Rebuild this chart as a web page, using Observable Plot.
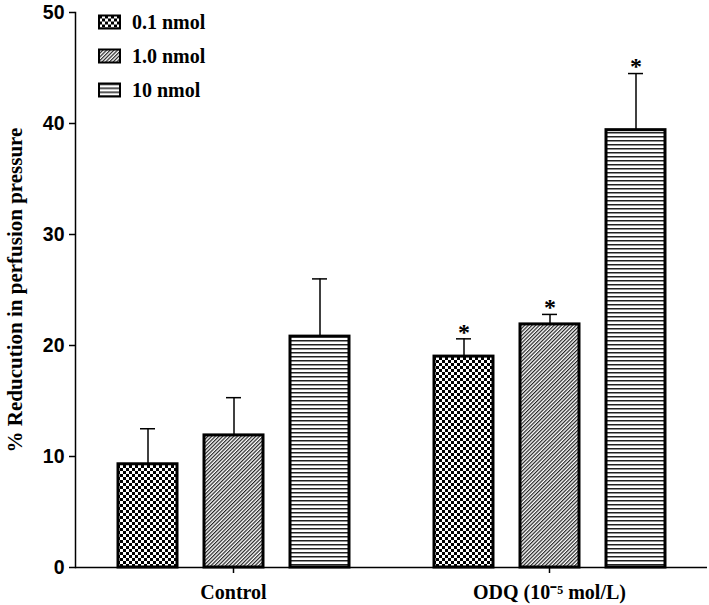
<!DOCTYPE html>
<html><head><meta charset="utf-8">
<script src="https://cdn.jsdelivr.net/npm/d3@7"></script>
<script src="https://cdn.jsdelivr.net/npm/@observablehq/plot@0.6"></script>
<style>body{margin:0;background:#fff} #chart{width:709px;height:605px}</style>
</head><body><div id="chart"></div>
<script>
const groups = ["Control", "ODQ (10⁻⁵ mol/L)"];
const doses = ["0.1 nmol", "1.0 nmol", "10 nmol"];
const controlMeans = [9.3, 11.9, 20.8];
const controlSem = [3.2, 3.4, 5.2];
const controlSignificant = [false, false, false];
const odqMeans = [19.0, 21.9, 39.4];
const odqSem = [1.6, 0.9, 5.1];
const odqSignificant = [true, true, true];
const yTicks = [0, 10, 20, 30, 40, 50];
const yLabel = "% Reducution in perfusion pressure";

const rows = [];
doses.forEach((d, i) => rows.push({group: groups[0], dose: d, mean: controlMeans[i], sem: controlSem[i], sig: controlSignificant[i]}));
doses.forEach((d, i) => rows.push({group: groups[1], dose: d, mean: odqMeans[i], sem: odqSem[i], sig: odqSignificant[i]}));

const patternIds = ["pat-checker", "pat-diag", "pat-horiz"];
const SERIF = "'Liberation Serif', 'Times New Roman', serif";
const SANS = "'Liberation Sans', Arial, sans-serif";

const plot = Plot.plot({
  width: 709, height: 605, marginTop: 12, marginBottom: 38, marginLeft: 75, marginRight: 2,
  fx: {domain: groups, padding: 0, label: null},
  x: {domain: doses, paddingInner: 0.314, paddingOuter: 0.494, axis: null},
  y: {domain: [0, 50]},
  color: {type: "ordinal", domain: doses, range: patternIds.map(id => `url(#${id})`)},
  marks: [
    Plot.barY(rows, {fx: "group", x: "dose", y: "mean", fill: "dose", stroke: "black", strokeWidth: 3}),
    Plot.ruleX(rows, {fx: "group", x: "dose", y1: "mean", y2: d => d.mean + d.sem, stroke: "black", strokeWidth: 1.5}),
    Plot.tickY(rows, {fx: "group", x: "dose", y: d => d.mean + d.sem, stroke: "black", strokeWidth: 1.5, insetLeft: 22, insetRight: 22}),
    Plot.text(rows.filter(d => d.sig), {fx: "group", x: "dose", y: d => d.mean + d.sem, text: () => "*", dy: -7, fontSize: 24, fontWeight: "bold", fontFamily: SERIF}),
    Plot.ruleY([0], {stroke: "black", strokeWidth: 1.5}),
    Plot.frame({anchor: "left", facet: "super", strokeWidth: 1.5}),
    Plot.axisY({ticks: yTicks, tickSize: 6, tickPadding: 5, label: null, fontSize: 19.5, fontWeight: "bold", fontFamily: SANS, strokeWidth: 1.5}),
    Plot.axisY({ticks: [], label: yLabel, labelAnchor: "center", labelArrow: "none", labelOffset: 68, fontSize: 21, fontWeight: "bold", fontFamily: SERIF}),
    Plot.axisFx({anchor: "bottom", tickSize: 6, tickPadding: 11, label: null, fontSize: 20, fontWeight: "bold", fontFamily: SERIF, strokeWidth: 1.5})
  ]
});

const svg = d3.select(plot);
const defs = svg.insert("defs", ":first-child");
let p = defs.append("pattern").attr("id", "pat-checker").attr("patternUnits", "userSpaceOnUse").attr("width", 6).attr("height", 6);
p.append("rect").attr("width", 6).attr("height", 6).attr("fill", "white");
p.append("rect").attr("width", 3).attr("height", 3).attr("fill", "black");
p.append("rect").attr("x", 3).attr("y", 3).attr("width", 3).attr("height", 3).attr("fill", "black");
p = defs.append("pattern").attr("id", "pat-diag").attr("patternUnits", "userSpaceOnUse").attr("width", 2.6).attr("height", 2.6).attr("patternTransform", "rotate(45)");
p.append("rect").attr("width", 2.6).attr("height", 2.6).attr("fill", "white");
p.append("rect").attr("width", 1.2).attr("height", 2.6).attr("fill", "#222");
p = defs.append("pattern").attr("id", "pat-horiz").attr("patternUnits", "userSpaceOnUse").attr("width", 4).attr("height", 4);
p.append("rect").attr("width", 4).attr("height", 4).attr("fill", "white");
p.append("rect").attr("width", 4).attr("height", 1.5).attr("fill", "#222");

const lg = svg.append("g").attr("transform", "translate(99,15.5)");
doses.forEach((d, i) => {
  const g = lg.append("g").attr("transform", `translate(0,${i * 34})`);
  g.append("rect").attr("width", 21).attr("height", 13).attr("fill", `url(#${patternIds[i]})`).attr("stroke", "black").attr("stroke-width", 2);
  g.append("text").attr("x", 33).attr("y", 13).text(d)
    .style("font-family", SERIF).style("font-size", "20px").style("font-weight", "bold")
    .style("text-anchor", "start").attr("fill", "black");
});

document.getElementById("chart").appendChild(plot);
</script>
</body></html>
